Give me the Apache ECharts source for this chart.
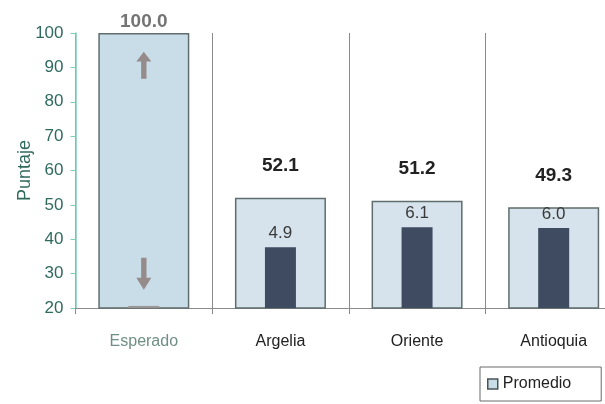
<!DOCTYPE html>
<html><head><meta charset="utf-8">
<script src="https://cdn.jsdelivr.net/npm/echarts@6/dist/echarts.min.js"></script>
<style>html,body{margin:0;padding:0;background:#fff;overflow:hidden;width:605px;height:404px}#c{width:640px;height:404px}</style>
</head><body><div id="c"></div>
<script>
const categories = ['Esperado', 'Argelia', 'Oriente', 'Antioquia'];
const promedio = [100.0, 52.1, 51.2, 49.3];
const innerValues = [20.6, 37.7, 43.5, 43.3];
const innerLabels = ['', '4.9', '6.1', '6.0'];
const arrowUp = [90.6];
const arrowDown = [30.0];
const yTicks = [20, 30, 40, 50, 60, 70, 80, 90, 100];

const chart = echarts.init(document.getElementById('c'));
const upPath = 'path://M7,0 L14,10 L9.5,10 L9.5,28 L4.5,28 L4.5,10 L0,10 Z';
const downPath = 'path://M4.5,0 L9.5,0 L9.5,20 L14,20 L7,32 L0,20 L4.5,20 Z';
chart.setOption({
  animation: false,
  grid: {left: 75.5, width: 546.5, top: 33, height: 275},
  legend: {
    data: ['Promedio'], left: 480, top: 367, padding: [9, 30, 9, 7],
    borderColor: '#6a6a6a', borderWidth: 1, itemWidth: 10, itemHeight: 10, itemGap: 4,
    icon: 'rect',
    itemStyle: {color: '#c9dde8', borderColor: '#4a5555', borderWidth: 1.5},
    textStyle: {fontSize: 16, color: '#222', fontFamily: 'Liberation Sans'}
  },
  xAxis: [{
    type: 'category', data: categories,
    axisLine: {lineStyle: {color: '#8a8a8a', width: 1}},
    axisTick: {show: true, length: 6, lineStyle: {color: '#8a8a8a'}},
    splitLine: {show: true, lineStyle: {color: '#8a8a8a', width: 1}},
    axisLabel: {
      margin: 26, fontSize: 16, fontFamily: 'Liberation Sans',
      color: (v) => v === 'Esperado' ? '#6f8f86' : '#222'
    }
  }, {
    type: 'category', data: categories, show: false, position: 'bottom'
  }],
  yAxis: {
    type: 'value', min: 20, max: 100, interval: 10,
    name: 'Puntaje', nameLocation: 'middle', nameGap: 41, nameRotate: 90,
    nameMoveOverlap: false,
    nameTextStyle: {fontSize: 18, color: '#2f6a5e', fontFamily: 'Liberation Sans'},
    axisLine: {show: true, lineStyle: {color: '#7fcdb8', width: 1.5}},
    axisTick: {show: true, length: 5, lineStyle: {color: '#7fcdb8'}},
    splitLine: {show: false},
    axisLabel: {
      fontSize: 17, color: '#2f6a5e', margin: 12,
      fontFamily: 'Liberation Sans Narrow, Liberation Sans',
      formatter: (v) => yTicks.includes(v) ? String(v) : ''
    }
  },
  series: [{
    name: 'Promedio', type: 'bar', xAxisIndex: 0, barWidth: 91,
    itemStyle: {color: '#d6e3ec', borderColor: '#5f6e6c', borderWidth: 1.5},
    data: promedio.map((v, i) => ({
      value: v,
      itemStyle: i === 0 ? {color: '#c9dde8'} : undefined,
      label: {
        show: true, position: 'top', distance: i === 0 ? 2 : 22,
        formatter: v.toFixed(1), fontSize: 19, fontWeight: 'bold',
        fontFamily: 'Liberation Sans',
        color: i === 0 ? '#747474' : '#222'
      }
    }))
  }, {
    name: 'inner', type: 'bar', xAxisIndex: 1, barWidth: 31,
    itemStyle: {color: '#3f4b60'},
    data: innerValues.map((v, i) => ({
      value: v,
      itemStyle: i === 0 ? {color: '#9a9696'} : undefined,
      label: {
        show: innerLabels[i] !== '', position: 'top', distance: 5,
        formatter: innerLabels[i], fontSize: 17, color: '#3a3a3a',
        fontFamily: 'Liberation Sans'
      }
    }))
  }, {
    type: 'scatter', xAxisIndex: 0, symbol: upPath, symbolSize: [15, 27],
    itemStyle: {color: '#8a7773'}, data: [[0, arrowUp[0]]], z: 5
  }, {
    type: 'scatter', xAxisIndex: 0, symbol: downPath, symbolSize: [15, 32],
    itemStyle: {color: '#8a7773'}, data: [[0, arrowDown[0]]], z: 5
  }]
});
</script></body></html>
